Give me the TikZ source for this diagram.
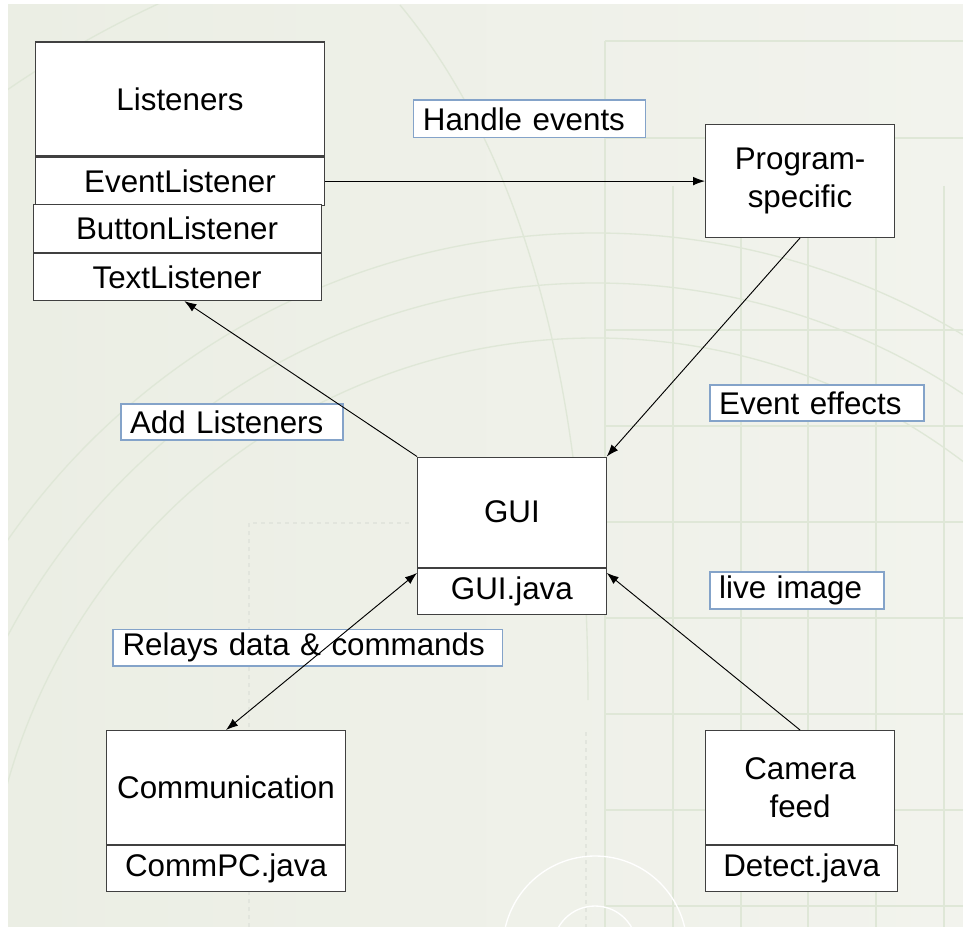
\documentclass[tikz,border=0pt]{standalone}
\usepackage{fontspec}
\setmainfont{Liberation Sans}
\usetikzlibrary{positioning,arrows.meta}
\definecolor{slidebg}{RGB}{235,238,228}
\definecolor{slidebgr}{RGB}{242,243,237}
\definecolor{deco}{RGB}{223,231,215}
\definecolor{decodash}{RGB}{226,229,221}
\definecolor{tagline}{RGB}{132,163,201}
\tikzset{
  part/.style={draw=black!75, fill=white, line width=0.8pt, inner sep=0pt, align=center,
    anchor=north west, font=\fontsize{23.5}{28.5}\selectfont},
  tag/.style={draw=tagline, fill=white, line width=1.3pt, anchor=north west, inner xsep=7pt,
    inner ysep=0pt, align=left, font=\fontsize{23.5}{28.5}\selectfont},
  link/.style={line width=0.7pt, -{Latex[length=9pt,width=6.5pt]}}
}
\begin{document}
\begin{tikzpicture}[x=0.75pt,y=-0.75pt]
    \useasboundingbox (0,0) rectangle (963,927);
    % slide background
    \fill [white] (0,0) rectangle (963,927);
    \shade [left color=slidebg, right color=slidebgr] (8,5) rectangle (963,927);
    \begin{scope}
      \clip (8,5) rectangle (963,927);
      \draw [deco, line width=1.5pt] (605,41) -- (963,41) (605,41) -- (605,927);
      \foreach \gx in {673,741,808,876,944}
        \draw [deco, line width=1.5pt] (\gx,186) -- (\gx,927);
      \foreach \gy in {138,330,426,522,618,714,810,906}
        \draw [deco, line width=1.5pt] (605,\gy) -- (963,\gy);
      \foreach \rr in {610,665,715,1040}
        \draw [deco, line width=1pt] (595,948) circle (\rr);
      \draw [deco, line width=1pt] (400,5) .. controls (520,150) and (588,380) .. (588,700);
      \draw [decodash, dashed, line width=1pt] (249,927) -- (249,523) -- (411,523);
      \draw [decodash, dashed, line width=1pt] (586,732) -- (586,927);
      \draw [white, line width=1pt] (595,948) circle (92);
      \draw [white, line width=1pt] (595,948) circle (42);
    \end{scope}

    % listeners
    \node [part, minimum width=216.75pt, minimum height=85.5pt, name=lis] at (35,41.5) {Listeners};
    \node [part, minimum width=216.75pt, minimum height=36pt, below=0pt of lis, name=evl] {EventListener};
    \node [part, minimum width=216pt, minimum height=36pt, name=bl] at (32.5,204) {ButtonListener};
    \node [part, minimum width=216pt, minimum height=35.25pt, below=0pt of bl, name=tl] {TextListener};

    % program side
    \node [part, minimum width=141.75pt, minimum height=85pt, name=prog] at (705,123.6) {Program-\\specific};

    % gui
    \node [part, minimum width=141.5pt, minimum height=82.5pt, name=gui] at (417,456.5) {GUI};
    \node [part, minimum width=141.5pt, minimum height=34.5pt, below=0pt of gui, name=guij] {GUI.java};

    % communication
    \node [part, minimum width=178.75pt, minimum height=85.5pt, name=comm] at (106.3,730) {Communication};
    \node [part, minimum width=178.75pt, minimum height=34.5pt, below=0pt of comm, name=commj] {CommPC.java};

    % camera
    \node [part, minimum width=141.75pt, minimum height=85.5pt, name=cam] at (705,730) {Camera\\feed};
    \node [part, minimum width=144.3pt, minimum height=34.5pt, name=det] at (705,844.5) {Detect.java};

    % labels
    \node [tag, text width=160pt, minimum height=28pt, name=he] at (412.7,99.3) {Handle events};
    \node [tag, text width=146.5pt, minimum height=27pt, name=ee] at (709,384.4) {Event effects};
    \node [tag, text width=152.5pt, minimum height=27pt, name=al] at (119.8,403.3) {Add Listeners};
    \node [tag, text width=116.5pt, minimum height=27.75pt, name=li] at (709,571) {live image};
    \node [tag, text width=278pt, minimum height=27.5pt, name=rd] at (112.4,628.6) {Relays data \& commands};

    % connectors
    \draw [link] (evl.east) -- (evl.east -| prog.west);
    \draw [link] (prog.south) -- (gui.north east);
    \draw [link] (gui.north west) -- ([xshift=5.5pt]tl.south);
    \draw [link, {Latex[length=9pt,width=6.5pt]}-{Latex[length=9pt,width=6.5pt]}] (comm.north) -- ([yshift=-4pt]guij.north west);
    \draw [link] (cam.north) -- ([yshift=-4pt]guij.north east);
  \end{tikzpicture}
\end{document}
